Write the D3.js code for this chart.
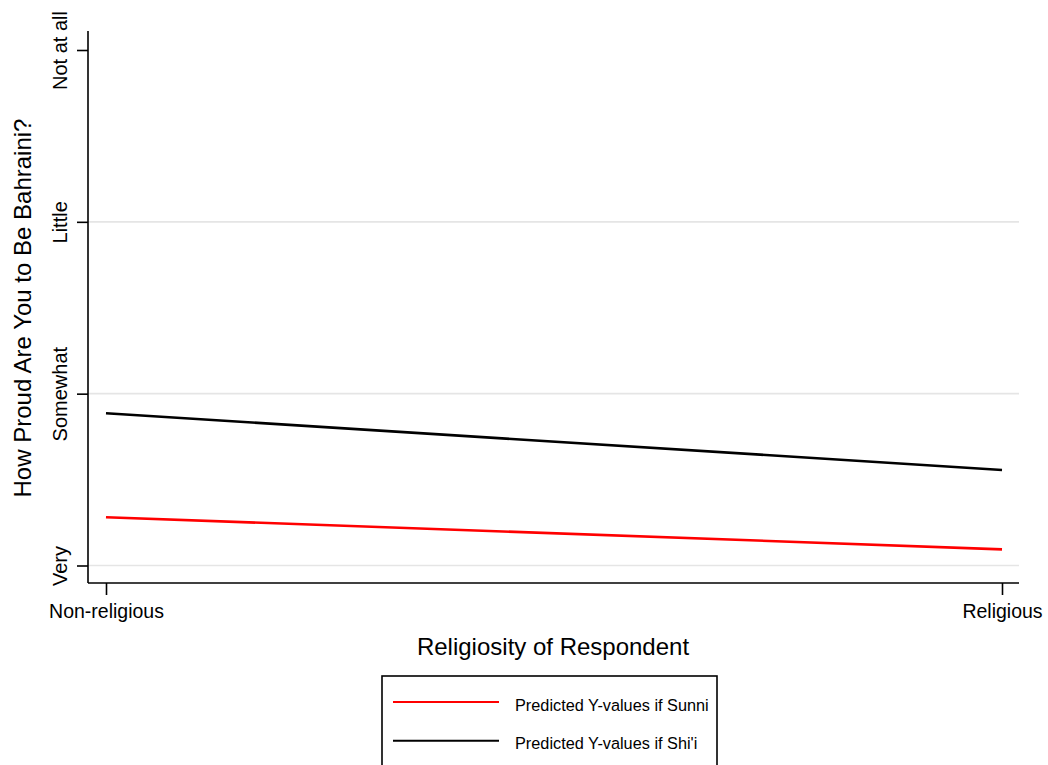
<!DOCTYPE html>
<html>
<head>
<meta charset="utf-8">
<script src="https://cdn.jsdelivr.net/npm/d3@7"></script>
<style>
body{margin:0;background:#fff;}
svg{display:block;font-family:"Liberation Sans",Arial,sans-serif;}
</style>
</head>
<body>
<svg id="chart" width="1048" height="765"></svg>
<script>
const xCategories = ["Non-religious", "Religious"];
const xValues = [0, 1];
const yTickValues = [1, 2, 3, 4];
const yTickLabels = ["Very", "Somewhat", "Little", "Not at all"];
const yGridValues = [1, 2, 3];
const sunniValues = [1.281, 1.094];
const shiiValues = [1.886, 1.556];
const seriesNames = ["Predicted Y-values if Sunni", "Predicted Y-values if Shi'i"];
const seriesColors = ["#ff0000", "#000000"];

const svg = d3.select("#chart");
const x = d3.scaleLinear().domain([0, 1]).range([106, 1002]);
const y = d3.scaleLinear().domain([1, 4]).range([565.5, 50]);
const plotLeft = 88, plotRight = 1019, plotTop = 31, plotBottom = 583;

// gridlines
svg.append("g").selectAll("line").data(yGridValues).join("line")
  .attr("x1", plotLeft).attr("x2", plotRight)
  .attr("y1", d => y(d)).attr("y2", d => y(d))
  .attr("stroke", "#e5e5e5").attr("stroke-width", 1.6);

// y axis
const yAxis = d3.axisLeft(y).tickValues(yTickValues)
  .tickFormat((d, i) => yTickLabels[i]).tickSize(11).tickSizeOuter(0);
const gy = svg.append("g").attr("transform", `translate(${plotLeft},0)`).call(yAxis);
gy.attr("font-size", null).attr("font-family", null);
gy.select(".domain").attr("d", `M0,${plotTop}V${plotBottom}`).attr("stroke", "#000").attr("stroke-width", 1.6);
gy.selectAll(".tick line").attr("stroke", "#000").attr("stroke-width", 1.6);
gy.selectAll(".tick text")
  .attr("transform", "rotate(-90)")
  .attr("x", 0).attr("y", -21).attr("dy", 0)
  .attr("text-anchor", "middle")
  .attr("font-size", 20).attr("fill", "#000");

// x axis
const xAxis = d3.axisBottom(x).tickValues(xValues)
  .tickFormat((d, i) => xCategories[i]).tickSize(12).tickSizeOuter(0);
const gx = svg.append("g").attr("transform", `translate(0,${plotBottom})`).call(xAxis);
gx.attr("font-size", null).attr("font-family", null);
gx.select(".domain").attr("d", `M${plotLeft},0H${plotRight}`).attr("stroke", "#000").attr("stroke-width", 1.6);
gx.selectAll(".tick line").attr("stroke", "#000").attr("stroke-width", 1.6);
gx.selectAll(".tick text")
  .attr("y", 35).attr("dy", 0)
  .attr("font-size", 19.5).attr("fill", "#000");

// lines
const line = d3.line().x((d, i) => x(xValues[i])).y(d => y(d));
[sunniValues, shiiValues].forEach((vals, k) => {
  svg.append("path").datum(vals).attr("d", line)
    .attr("fill", "none").attr("stroke", seriesColors[k]).attr("stroke-width", 2.6);
});

// axis titles
svg.append("text").attr("x", 553).attr("y", 655).attr("text-anchor", "middle")
  .attr("font-size", 24).text("Religiosity of Respondent");
svg.append("text").attr("transform", "translate(31,308) rotate(-90)").attr("text-anchor", "middle")
  .attr("font-size", 24).text("How Proud Are You to Be Bahraini?");

// legend
const lg = svg.append("g");
lg.append("rect").attr("x", 382).attr("y", 676).attr("width", 335).attr("height", 100)
  .attr("fill", "#fff").attr("stroke", "#000").attr("stroke-width", 1.6);
seriesNames.forEach((name, k) => {
  const yy = 702 + k * 38.7;
  lg.append("line").attr("x1", 393).attr("x2", 499).attr("y1", yy).attr("y2", yy)
    .attr("stroke", seriesColors[k]).attr("stroke-width", 2);
  lg.append("text").attr("x", 515).attr("y", yy + 8.5).attr("font-size", 16.3).text(name);
});
</script>
</body>
</html>
